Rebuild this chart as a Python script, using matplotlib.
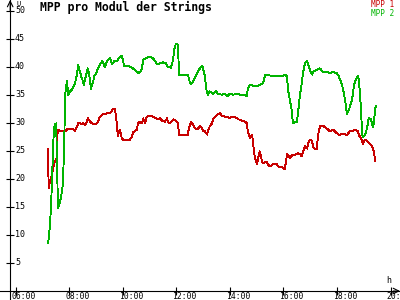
import numpy as np
import matplotlib
matplotlib.use('Agg')
import matplotlib.pyplot as plt

# MPP 1 (rot)
zeit_1 = ['07:13', '07:14', '07:17', '07:22', '07:24', '07:28', '07:32', '07:33', '07:35', '07:40',
          '07:44', '07:51', '07:55', '07:58', '08:02', '08:07', '08:13', '08:18', '08:20', '08:24',
          '08:29', '08:31', '08:36', '08:40', '08:42', '08:47', '08:51', '08:58', '09:05', '09:09',
          '09:16', '09:25', '09:32', '09:38', '09:43', '09:45', '09:47', '09:49', '09:52', '09:54',
          '09:58', '10:01', '10:10', '10:16', '10:21', '10:23', '10:32', '10:34', '10:39', '10:43',
          '10:46', '10:50', '10:54', '11:01', '11:08', '11:15', '11:19', '11:24', '11:28', '11:35',
          '11:39', '11:41', '11:46', '11:53', '12:02', '12:04', '12:06', '12:15', '12:26', '12:28',
          '12:33', '12:37', '12:42', '12:46', '12:49', '12:53', '12:58', '13:00', '13:04', '13:09',
          '13:11', '13:15', '13:20', '13:22', '13:27', '13:33', '13:38', '13:42', '13:49', '14:00',
          '14:07', '14:16', '14:20', '14:34', '14:38', '14:40', '14:45', '14:50', '14:52', '14:56',
          '15:01', '15:03', '15:07', '15:12', '15:14', '15:23', '15:25', '15:30', '15:36', '15:45',
          '15:48', '15:57', '15:59', '16:03', '16:08', '16:10', '16:15', '16:19', '16:30', '16:32',
          '16:37', '16:41', '16:44', '16:48', '16:53', '16:55', '16:59', '17:04', '17:06', '17:10',
          '17:15', '17:17', '17:22', '17:28', '17:37', '17:44', '17:51', '18:00', '18:06', '18:13',
          '18:22', '18:29', '18:36', '18:40', '18:47', '18:49', '18:54', '18:58', '19:03', '19:07',
          '19:14', '19:18', '19:23', '19:25']
mpp_1 = [25.4, 18.3, 19.6, 20.8, 21.9, 23.1, 23.7, 27.2, 28.8, 28.5,
         28.5, 28.5, 28.8, 29.0, 28.8, 29.0, 28.5, 29.4, 29.9, 29.9,
         29.7, 29.9, 29.6, 30.2, 30.8, 30.2, 29.9, 29.7, 30.2, 31.1,
         31.5, 31.7, 31.7, 32.4, 32.4, 31.1, 29.7, 27.6, 28.5, 28.8,
         27.2, 27.0, 26.9, 27.0, 27.6, 28.3, 28.8, 29.9, 30.2, 29.9,
         30.8, 29.9, 31.1, 31.3, 31.1, 30.8, 30.6, 30.8, 30.4, 30.2,
         30.8, 30.2, 29.9, 30.6, 30.2, 29.9, 27.8, 27.8, 27.8, 29.0,
         30.2, 29.7, 29.0, 28.8, 29.0, 29.4, 29.0, 28.6, 28.5, 27.9,
         28.5, 29.4, 29.9, 30.6, 31.1, 31.5, 31.7, 31.3, 31.1, 30.9,
         31.1, 30.8, 30.6, 30.2, 29.9, 28.5, 27.2, 27.9, 26.2, 23.7,
         22.6, 23.7, 24.9, 23.1, 22.8, 23.1, 22.6, 22.2, 22.6, 22.6,
         22.2, 22.1, 21.9, 21.7, 24.4, 24.2, 23.7, 24.2, 24.4, 24.6,
         24.4, 24.0, 24.9, 25.8, 25.4, 26.3, 27.0, 26.8, 25.8, 25.3,
         25.4, 27.6, 29.5, 29.5, 29.0, 28.5, 28.8, 28.1, 27.8, 28.1,
         27.8, 28.5, 28.5, 28.8, 28.5, 27.8, 27.2, 26.2, 27.0, 26.7,
         26.2, 25.8, 24.9, 23.1]

# MPP 2 (gruen)
zeit_2 = ['07:13', '07:17', '07:20', '07:22', '07:24', '07:26', '07:28', '07:31', '07:33', '07:35',
          '07:40', '07:44', '07:46', '07:49', '07:51', '07:55', '07:58', '08:02', '08:07', '08:09',
          '08:13', '08:18', '08:20', '08:22', '08:27', '08:31', '08:33', '08:38', '08:42', '08:45',
          '08:49', '08:54', '08:56', '09:00', '09:05', '09:09', '09:14', '09:20', '09:25', '09:32',
          '09:36', '09:41', '09:47', '09:54', '09:58', '10:03', '10:10', '10:16', '10:23', '10:32',
          '10:37', '10:43', '10:46', '10:54', '10:59', '11:06', '11:10', '11:17', '11:24', '11:30',
          '11:37', '11:41', '11:48', '11:53', '11:55', '11:59', '12:02', '12:04', '12:06', '12:15',
          '12:26', '12:31', '12:35', '12:40', '12:46', '12:51', '12:58', '13:00', '13:04', '13:07',
          '13:11', '13:15', '13:22', '13:29', '13:33', '13:42', '13:49', '13:54', '14:00', '14:07',
          '14:16', '14:23', '14:34', '14:38', '14:40', '14:45', '14:52', '15:01', '15:07', '15:14',
          '15:19', '15:25', '15:34', '15:41', '15:48', '15:57', '16:03', '16:08', '16:10', '16:15',
          '16:19', '16:21', '16:26', '16:30', '16:32', '16:37', '16:41', '16:44', '16:48', '16:53',
          '16:55', '16:59', '17:04', '17:06', '17:15', '17:22', '17:28', '17:37', '17:44', '17:51',
          '18:00', '18:04', '18:11', '18:16', '18:20', '18:22', '18:27', '18:34', '18:38', '18:42',
          '18:47', '18:49', '18:54', '18:56', '18:58', '19:03', '19:07', '19:11', '19:16', '19:20',
          '19:23', '19:25', '19:27']
mpp_2 = [8.5, 11.6, 16.0, 20.8, 25.4, 29.0, 29.7, 29.9, 22.0, 14.8,
         16.0, 17.8, 19.0, 26.0, 35.0, 37.4, 35.0, 35.6, 36.0, 36.4,
         37.0, 38.8, 40.4, 39.7, 38.3, 37.4, 36.8, 38.6, 39.7, 38.6,
         36.1, 37.4, 38.3, 38.8, 39.7, 40.4, 41.0, 40.0, 41.0, 41.5,
         40.4, 41.0, 41.0, 41.8, 42.0, 40.2, 40.2, 40.0, 39.7, 39.1,
         38.8, 39.7, 41.3, 41.6, 41.8, 41.6, 41.3, 40.4, 40.6, 40.8,
         40.6, 40.0, 39.8, 41.3, 43.0, 44.1, 44.1, 43.6, 38.6, 38.6,
         38.6, 37.0, 37.0, 37.7, 38.8, 39.5, 40.2, 39.7, 38.3, 36.0,
         35.0, 35.6, 35.2, 35.6, 35.2, 35.0, 35.2, 34.7, 35.2, 35.0,
         35.2, 35.0, 35.0, 34.7, 36.0, 36.8, 36.6, 36.5, 36.8, 37.0,
         38.6, 38.6, 38.3, 38.3, 38.4, 38.3, 38.6, 38.3, 36.0, 33.8,
         32.0, 29.9, 30.2, 30.2, 31.3, 35.0, 37.0, 39.0, 40.6, 41.0,
         40.4, 39.5, 38.6, 39.1, 39.5, 39.7, 39.1, 39.1, 38.8, 39.1,
         38.8, 38.3, 36.8, 35.0, 33.0, 31.5, 32.4, 34.3, 36.8, 37.7,
         38.3, 37.7, 32.0, 28.0, 27.4, 27.9, 29.0, 30.8, 30.6, 29.2,
         30.2, 32.4, 33.0]

x_ticks = [6, 8, 10, 12, 14, 16, 18, 20]
x_labels = ['06:00', '08:00', '10:00', '12:00', '14:00', '16:00', '18:00', '20:00']
y_ticks = [5, 10, 15, 20, 25, 30, 35, 40, 45, 50]


def in_stunden(zeiten):
    return np.array([int(z[:2]) + int(z[3:]) / 60 for z in zeiten])


rot = '#c80000'
gruen = '#00b400'
mono = 'DejaVu Sans Mono'

fig = plt.figure(figsize=(4, 3), dpi=100, facecolor='white')
ax = fig.add_axes([0, 0, 1, 1])
ax.set_xlim(5.42, 20.35)
ax.set_ylim(-1.6, 51.9)

ax.plot(in_stunden(zeit_1), mpp_1, color=rot, lw=0.65, antialiased=False)
ax.plot(in_stunden(zeit_2), mpp_2, color=gruen, lw=0.65, antialiased=False)

# Achsen
for s in ['top', 'right']:
    ax.spines[s].set_visible(False)
ax.spines['left'].set_position(('data', 5.8))
ax.spines['bottom'].set_position(('data', 0))
ax.spines['left'].set_linewidth(0.8)
ax.spines['bottom'].set_linewidth(0.8)
ax.set_xticks(x_ticks)
ax.set_yticks(y_ticks)
ax.tick_params(direction='inout', length=6, width=0.8, labelbottom=False, labelleft=False)

ax.annotate('', xy=(5.8, 51.9), xytext=(5.8, 50.0),
            arrowprops=dict(arrowstyle='->', lw=0.8, color='black', shrinkA=0, shrinkB=0))
ax.annotate('', xy=(20.35, 0), xytext=(20.1, 0),
            arrowprops=dict(arrowstyle='->', lw=0.8, color='black', shrinkA=0, shrinkB=0))

for v in y_ticks:
    ax.text(5.98, v, str(v), fontsize=6, family=mono, ha='left', va='center')
for t, lab in zip(x_ticks, x_labels):
    ax.text(t - 0.15, -0.15, lab, fontsize=5.8, family=mono, ha='left', va='top', clip_on=False)

ax.text(6.05, 51.8, 'U', fontsize=5, family=mono, ha='left', va='top')
ax.text(19.82, 1.0, 'h', fontsize=6, family=mono, ha='left', va='bottom')

ax.text(6.92, 50.5, 'MPP pro Modul der Strings', fontsize=8.3, family=mono,
        fontweight='bold', ha='left', va='center')
ax.text(20.14, 51.1, 'MPP 1', fontsize=5.6, family=mono, color=rot, ha='right', va='center')
ax.text(20.14, 49.5, 'MPP 2', fontsize=5.6, family=mono, color=gruen, ha='right', va='center')

fig.savefig('out.png', dpi=100, facecolor='white')
